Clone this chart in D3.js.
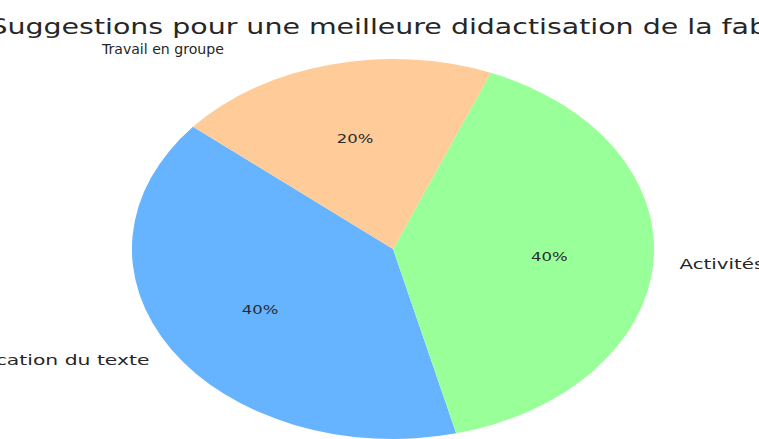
<!DOCTYPE html>
<html>
<head>
<meta charset="utf-8">
<script src="https://cdn.jsdelivr.net/npm/d3@7"></script>
<style>
  html, body { margin: 0; padding: 0; background: #fff; }
  svg { display: block; font-family: "DejaVu Sans", sans-serif; }
</style>
</head>
<body>
<svg id="chart" width="759" height="439"></svg>
<script>
// Survey answers
const categories = ["Explication du texte", "Activités ludiques", "Travail en groupe"];
const values = [40, 40, 20];
const colors = ["#66b3ff", "#99ff99", "#ffcc99"];
const title = "Suggestions pour une meilleure didactisation de la fable";

const W = 759, H = 439;
const cx = 393, cy = 249;
const R = 190;          // pie radius before horizontal stretch
const stretchX = 1.374; // figure is drawn stretched horizontally
const startDeg = 140;   // first wedge starts here, counter-clockwise from 3 o'clock

const svg = d3.select("#chart");
const g = svg.append("g")
  .attr("transform", `translate(${cx},${cy}) scale(${stretchX},1)`);

const toRad = d => d * Math.PI / 180;
// d3 angles are clockwise from 12 o'clock; go counter-clockwise like a classic pie
const a0 = toRad(90 - startDeg);
const pie = d3.pie().sort(null).value(d => d.v)
  .startAngle(a0).endAngle(a0 - 2 * Math.PI);

const data = categories.map((c, i) => ({ name: c, v: values[i], color: colors[i] }));
const arcs = pie(data);
const arc = d3.arc().innerRadius(0).outerRadius(R);

g.selectAll("path.slice").data(arcs).join("path")
  .attr("class", "slice")
  .attr("d", arc)
  .attr("fill", d => d.data.color);

const total = d3.sum(values);
const mid = d => (d.startAngle + d.endAngle) / 2; // d3 angle
const px = (d, k) => k * R * Math.sin(mid(d));
const py = (d, k) => -k * R * Math.cos(mid(d));

// percentage labels
g.selectAll("text.pct").data(arcs).join("text")
  .attr("class", "pct")
  .attr("x", d => px(d, 0.6))
  .attr("y", d => py(d, 0.6))
  .attr("text-anchor", "middle")
  .attr("dominant-baseline", "central")
  .attr("font-size", 12)
  .attr("fill", "#2a2a2a")
  .text(d => Math.round(d.data.v / total * 100) + "%");

// category labels; the small wedge's label is condensed and sits further left
const labelShift = { "Travail en groupe": [-72.5, 2.5] };
const labelSize = { "Travail en groupe": 14, "Explication du texte": 14.8 };
const labelLength = { "Travail en groupe": 88.8 };
const shift = d => labelShift[d.data.name] || [0, 0];
const labs = g.selectAll("text.lab").data(arcs).join("text")
  .attr("class", "lab")
  .attr("x", d => px(d, 1.1) + shift(d)[0])
  .attr("y", d => py(d, 1.1) + shift(d)[1])
  .attr("text-anchor", d => px(d, 1.1) > 0 ? "start" : "end")
  .attr("dominant-baseline", "central")
  .attr("font-size", d => labelSize[d.data.name] || 14.4)
  .attr("fill", "#262626")
  .text(d => d.data.name);
labs.filter(d => labelLength[d.data.name])
  .attr("textLength", d => labelLength[d.data.name])
  .attr("lengthAdjust", "spacingAndGlyphs");

// title
g.append("text")
  .attr("x", -1.5)
  .attr("y", -215)
  .attr("text-anchor", "middle")
  .attr("font-size", 20.7)
  .attr("fill", "#262626")
  .text(title);
</script>
</body>
</html>
